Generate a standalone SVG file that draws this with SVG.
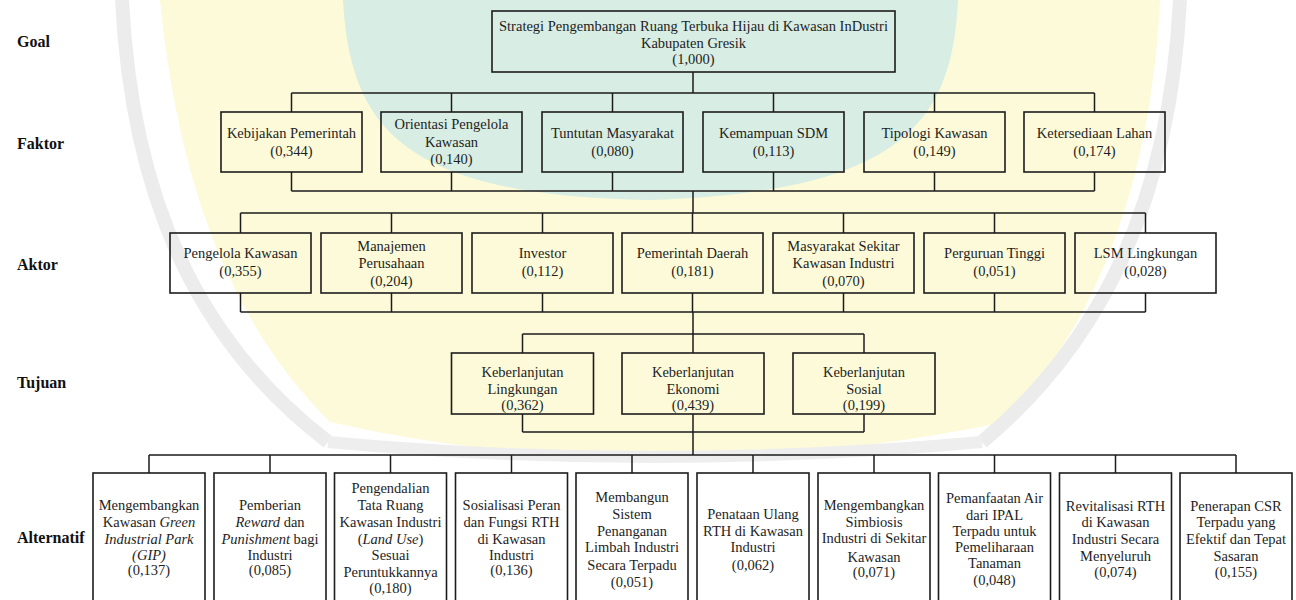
<svg xmlns="http://www.w3.org/2000/svg" width="1296" height="600" viewBox="0 0 1296 600">
<defs>
<style>
.box{fill:none;stroke:#1c1c1c;stroke-width:1.6}
.t{font-size:14.5px;fill:#1e1e1e;text-anchor:middle}
.lbl{font-size:16px;font-weight:bold;fill:#111}
.con{fill:none;stroke:#1c1c1c;stroke-width:1.5}
.i{font-style:italic}
</style>
</defs>
<rect width="1296" height="600" fill="#ffffff"/>
<g id="watermark">
<path d="M160,0 L1160,0 C1150,200 1088,330 1005,422 Q650,495 330,422 C238,330 180,200 160,0 Z" fill="#fcfad9"/>
<path d="M343,0 L958,0 C952,120 905,192 650,200 C405,196 350,130 343,0 Z" fill="#d8ede3"/>
<path d="M122,0 C132,200 198,342 328,442" fill="none" stroke="#ececec" stroke-width="14"/>
<path d="M1180,0 C1170,200 1102,342 982,442" fill="none" stroke="#ececec" stroke-width="14"/>
<path d="M328,442 Q650,472 982,442" fill="none" stroke="#eeeeee" stroke-width="12"/>
</g>
<g font-family="'Liberation Serif', 'DejaVu Serif', serif">
<g id="level-labels">
<text class="lbl" x="17" y="47">Goal</text>
<text class="lbl" x="17" y="149">Faktor</text>
<text class="lbl" x="17" y="270">Aktor</text>
<text class="lbl" x="17" y="388">Tujuan</text>
<text class="lbl" x="17" y="543">Alternatif</text>
</g>
<g id="connectors">
<path class="con" d="M693,72 V93 M291.5,93 H1094.5 M291.5,93 V112 M451.5,93 V112 M612.5,93 V112 M773.5,93 V112 M934.5,93 V112 M1094.5,93 V112"/>
<path class="con" d="M291.5,172 V191 M451.5,172 V191 M612.5,172 V191 M773.5,172 V191 M934.5,172 V191 M1094.5,172 V191 M291.5,191 H1094.5 M693,191 V213"/>
<path class="con" d="M240.5,213 H1145.5 M240.5,213 V233 M391.5,213 V233 M542.5,213 V233 M692.5,213 V233 M843.5,213 V233 M994.5,213 V233 M1145.5,213 V233"/>
<path class="con" d="M240.5,293 V312 M391.5,293 V312 M542.5,293 V312 M692.5,293 V312 M843.5,293 V312 M994.5,293 V312 M1145.5,293 V312 M240.5,312 H1145.5 M693,312 V334"/>
<path class="con" d="M522.5,334 H864 M522.5,334 V353 M693,334 V353 M864,334 V353"/>
<path class="con" d="M522.5,414 V432 M693,414 V432 M864,414 V432 M522.5,432 H864 M693,432 V455"/>
<path class="con" d="M149,455 H1236 M149,455 V473 M270,455 V473 M390.5,455 V473 M511.5,455 V473 M632,455 V473 M753,455 V473 M874,455 V473 M994.5,455 V473 M1115.5,455 V473 M1236,455 V473"/>
</g>
<g id="goal">
<rect class="box" x="492" y="11" width="403" height="61"/>
<text class="t" x="693.5" y="31">Strategi Pengembangan Ruang Terbuka Hijau di Kawasan InDustri</text>
<text class="t" x="693.5" y="48">Kabupaten Gresik</text>
<text class="t" x="693.5" y="64">(1,000)</text>
</g>
<g id="f1"><rect class="box" x="221" y="112" width="141" height="60"/><text class="t" x="291.5" y="138">Kebijakan Pemerintah</text><text class="t" x="291.5" y="156">(0,344)</text></g>
<g id="f2"><rect class="box" x="381" y="112" width="141" height="60"/><text class="t" x="451.5" y="129">Orientasi Pengelola</text><text class="t" x="451.5" y="147">Kawasan</text><text class="t" x="451.5" y="164">(0,140)</text></g>
<g id="f3"><rect class="box" x="542" y="112" width="141" height="60"/><text class="t" x="612.5" y="138">Tuntutan Masyarakat</text><text class="t" x="612.5" y="156">(0,080)</text></g>
<g id="f4"><rect class="box" x="703" y="112" width="141" height="60"/><text class="t" x="773.5" y="138">Kemampuan SDM</text><text class="t" x="773.5" y="156">(0,113)</text></g>
<g id="f5"><rect class="box" x="864" y="112" width="141" height="60"/><text class="t" x="934.5" y="138">Tipologi Kawasan</text><text class="t" x="934.5" y="156">(0,149)</text></g>
<g id="f6"><rect class="box" x="1024" y="112" width="141" height="60"/><text class="t" x="1094.5" y="138">Ketersediaan Lahan</text><text class="t" x="1094.5" y="156">(0,174)</text></g>
<g id="a1"><rect class="box" x="170" y="233" width="141" height="60"/><text class="t" x="240.5" y="258">Pengelola Kawasan</text><text class="t" x="240.5" y="276">(0,355)</text></g>
<g id="a2"><rect class="box" x="321" y="233" width="141" height="60"/><text class="t" x="391.5" y="251">Manajemen</text><text class="t" x="391.5" y="268">Perusahaan</text><text class="t" x="391.5" y="286">(0,204)</text></g>
<g id="a3"><rect class="box" x="472" y="233" width="141" height="60"/><text class="t" x="542.5" y="258">Investor</text><text class="t" x="542.5" y="276">(0,112)</text></g>
<g id="a4"><rect class="box" x="622" y="233" width="141" height="60"/><text class="t" x="692.5" y="258">Pemerintah Daerah</text><text class="t" x="692.5" y="276">(0,181)</text></g>
<g id="a5"><rect class="box" x="773" y="233" width="141" height="60"/><text class="t" x="843.5" y="251">Masyarakat Sekitar</text><text class="t" x="843.5" y="268">Kawasan Industri</text><text class="t" x="843.5" y="286">(0,070)</text></g>
<g id="a6"><rect class="box" x="924" y="233" width="141" height="60"/><text class="t" x="994.5" y="258">Perguruan Tinggi</text><text class="t" x="994.5" y="276">(0,051)</text></g>
<g id="a7"><rect class="box" x="1075" y="233" width="141" height="60"/><text class="t" x="1145.5" y="258">LSM Lingkungan</text><text class="t" x="1145.5" y="276">(0,028)</text></g>
<g id="tj1"><rect class="box" x="451.5" y="353" width="142" height="61"/><text class="t" x="522.5" y="377">Keberlanjutan</text><text class="t" x="522.5" y="394">Lingkungan</text><text class="t" x="522.5" y="410">(0,362)</text></g>
<g id="tj2"><rect class="box" x="622" y="353" width="142" height="61"/><text class="t" x="693" y="377">Keberlanjutan</text><text class="t" x="693" y="394">Ekonomi</text><text class="t" x="693" y="410">(0,439)</text></g>
<g id="tj3"><rect class="box" x="793" y="353" width="142" height="61"/><text class="t" x="864" y="377">Keberlanjutan</text><text class="t" x="864" y="394">Sosial</text><text class="t" x="864" y="410">(0,199)</text></g>
<g id="alt1"><rect class="box" x="93" y="473" width="112" height="140"/><text class="t" x="149" y="510">Mengembangkan</text><text class="t" x="149" y="527">Kawasan <tspan class="i">Green</tspan></text><text class="t i" x="149" y="544">Industrial Park</text><text class="t i" x="149" y="560">(GIP)</text><text class="t" x="149" y="575">(0,137)</text></g>
<g id="alt2"><rect class="box" x="214" y="473" width="112" height="140"/><text class="t" x="270" y="510">Pemberian</text><text class="t" x="270" y="527"><tspan class="i">Reward</tspan> dan</text><text class="t" x="270" y="544"><tspan class="i">Punishment</tspan> bagi</text><text class="t" x="270" y="560">Industri</text><text class="t" x="270" y="575">(0,085)</text></g>
<g id="alt3"><rect class="box" x="334.5" y="473" width="112" height="140"/><text class="t" x="390.5" y="493">Pengendalian</text><text class="t" x="390.5" y="510">Tata Ruang</text><text class="t" x="390.5" y="527">Kawasan Industri</text><text class="t" x="390.5" y="544">(<tspan class="i">Land Use</tspan>)</text><text class="t" x="390.5" y="560">Sesuai</text><text class="t" x="390.5" y="577">Peruntukkannya</text><text class="t" x="390.5" y="593">(0,180)</text></g>
<g id="alt4"><rect class="box" x="455.5" y="473" width="112" height="140"/><text class="t" x="511.5" y="510">Sosialisasi Peran</text><text class="t" x="511.5" y="527">dan Fungsi RTH</text><text class="t" x="511.5" y="544">di Kawasan</text><text class="t" x="511.5" y="560">Industri</text><text class="t" x="511.5" y="575">(0,136)</text></g>
<g id="alt5"><rect class="box" x="576" y="473" width="112" height="140"/><text class="t" x="632" y="502">Membangun</text><text class="t" x="632" y="519">Sistem</text><text class="t" x="632" y="536">Penanganan</text><text class="t" x="632" y="552">Limbah Industri</text><text class="t" x="632" y="570">Secara Terpadu</text><text class="t" x="632" y="587">(0,051)</text></g>
<g id="alt6"><rect class="box" x="697" y="473" width="112" height="140"/><text class="t" x="753" y="519">Penataan Ulang</text><text class="t" x="753" y="536">RTH di Kawasan</text><text class="t" x="753" y="552">Industri</text><text class="t" x="753" y="570">(0,062)</text></g>
<g id="alt7"><rect class="box" x="818" y="473" width="112" height="140"/><text class="t" x="874" y="510">Mengembangkan</text><text class="t" x="874" y="527">Simbiosis</text><text class="t" x="874" y="543">Industri di Sekitar</text><text class="t" x="874" y="562">Kawasan</text><text class="t" x="874" y="577">(0,071)</text></g>
<g id="alt8"><rect class="box" x="938.5" y="473" width="112" height="140"/><text class="t" x="994.5" y="503">Pemanfaatan Air</text><text class="t" x="994.5" y="520">dari IPAL</text><text class="t" x="994.5" y="536">Terpadu untuk</text><text class="t" x="994.5" y="552">Pemeliharaan</text><text class="t" x="994.5" y="568">Tanaman</text><text class="t" x="994.5" y="585">(0,048)</text></g>
<g id="alt9"><rect class="box" x="1059.5" y="473" width="112" height="140"/><text class="t" x="1115.5" y="511">Revitalisasi RTH</text><text class="t" x="1115.5" y="527">di Kawasan</text><text class="t" x="1115.5" y="544">Industri Secara</text><text class="t" x="1115.5" y="561">Menyeluruh</text><text class="t" x="1115.5" y="577">(0,074)</text></g>
<g id="alt10"><rect class="box" x="1180" y="473" width="112" height="140"/><text class="t" x="1236" y="511">Penerapan CSR</text><text class="t" x="1236" y="527">Terpadu yang</text><text class="t" x="1236" y="544">Efektif dan Tepat</text><text class="t" x="1236" y="561">Sasaran</text><text class="t" x="1236" y="577">(0,155)</text></g>
</g>
</svg>
